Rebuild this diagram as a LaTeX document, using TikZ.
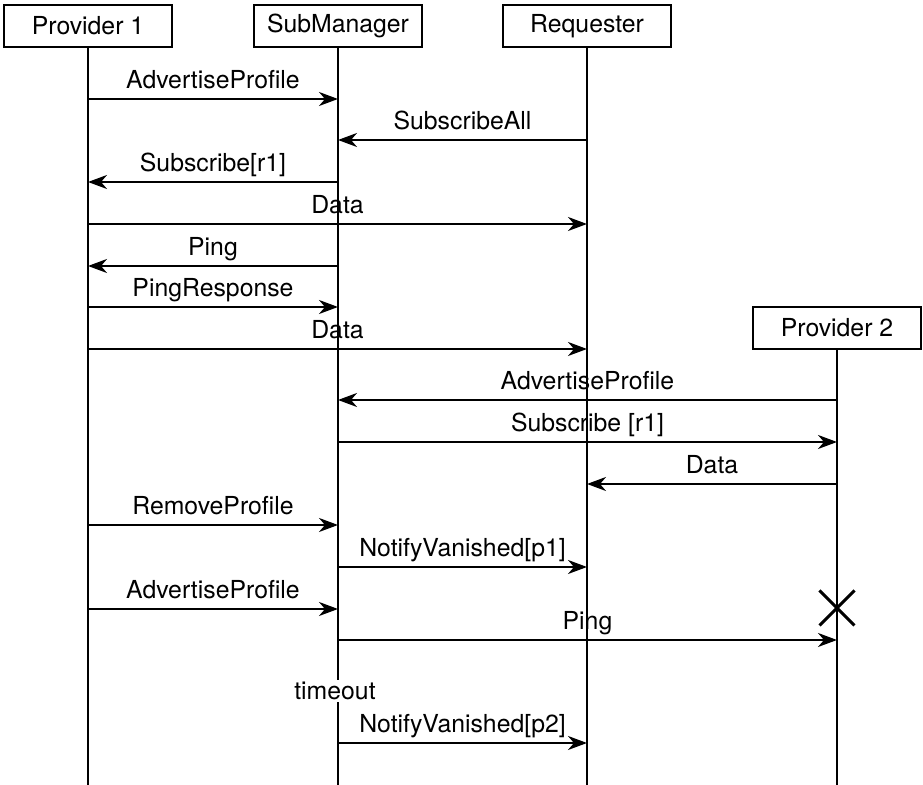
\documentclass[tikz,border=0pt]{standalone}
\usepackage{fontspec}
\setmainfont{TeX Gyre Heros}
\usepackage{tikz}
\usetikzlibrary{arrows.meta,shapes.misc}
\tikzset{
    actor/.style={draw, rectangle, line width=1pt, minimum width=84pt, minimum height=21pt, inner sep=0pt},
    life/.style={line width=1pt},
    msg/.style={line width=1pt, -{Stealth[length=9.5pt, width=7pt, inset=3pt]}},
    msglabel/.style={midway, anchor=base, inner sep=0pt, yshift=5pt},
}
\NewDocumentCommand{\sendmsg}{m m m m}{ % van, naar, hoogte, tekst
    \coordinate (#1-#3) at (#1 |- 0,#3);
    \coordinate (#2-#3) at (#2 |- 0,#3);
    \draw[msg] (#1-#3) -- node[msglabel] {#4} (#2-#3);
}

\begin{document}
\begin{tikzpicture}[x=0.5pt, y=-0.5pt, font=\fontsize{12.4}{15}\selectfont]
    \useasboundingbox (0,0) rectangle (923,785);
    % deelnemers
    \node[actor] (p1) at (88,26) {Provider 1};
    \node[actor] (sm) at (338,26) {SubManager};
    \node[actor] (rq) at (587,26) {Requester};
    \node[actor] (p2) at (837,328) {Provider 2};
    \foreach \n in {p1,sm,rq,p2}{
        \coordinate (\n-end) at (\n |- 0,785);
        \draw[life] (\n.south) -- (\n-end);
    }
    % berichten
    \sendmsg{p1}{sm}{99}{AdvertiseProfile}
    \sendmsg{rq}{sm}{140}{SubscribeAll}
    \sendmsg{sm}{p1}{182}{Subscribe[r1]}
    \sendmsg{p1}{rq}{224}{Data}
    \sendmsg{sm}{p1}{266}{Ping}
    \sendmsg{p1}{sm}{307}{PingResponse}
    \sendmsg{p1}{rq}{349}{Data}
    \sendmsg{p2}{sm}{400}{AdvertiseProfile}
    \sendmsg{sm}{p2}{442}{Subscribe [r1]}
    \sendmsg{p2}{rq}{484}{Data}
    \sendmsg{p1}{sm}{525}{RemoveProfile}
    \sendmsg{sm}{rq}{567}{NotifyVanished[p1]}
    \sendmsg{p1}{sm}{609}{AdvertiseProfile}
    \sendmsg{sm}{p2}{640}{Ping}
    \sendmsg{sm}{rq}{743}{NotifyVanished[p2]}
    % timeout en einde provider 2
    \node[fill=white, inner sep=1pt] (timeout) at (335,691) {timeout};
    \coordinate (kill) at (p2 |- 0,608);
    \node[cross out, draw, line width=1.5pt, minimum size=16pt, inner sep=0pt] (p2-x) at (kill) {};
\end{tikzpicture}
\end{document}
